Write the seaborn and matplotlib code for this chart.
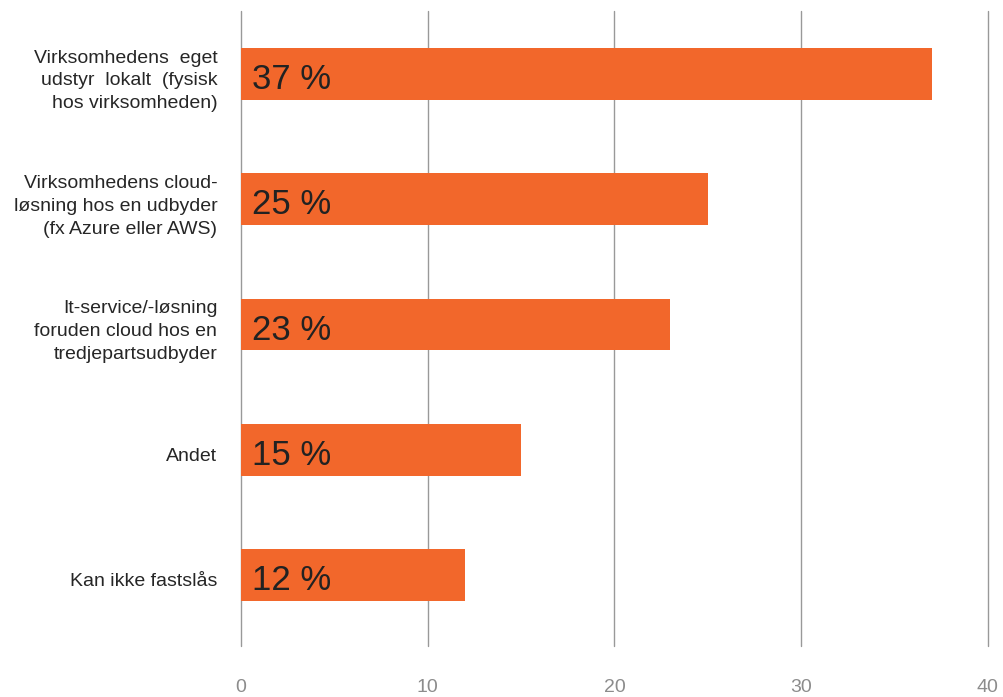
import matplotlib
matplotlib.use("Agg")
import matplotlib.pyplot as plt
import seaborn as sns
import pandas as pd

categories = [
    "Virksomhedens  eget\nudstyr  lokalt  (fysisk\nhos virksomheden)",
    "Virksomhedens cloud-\nløsning hos en udbyder\n(fx Azure eller AWS)",
    "It-service/-løsning\nforuden cloud hos en\ntredjepartsudbyder",
    "Andet",
    "Kan ikke fastslås",
]
values = [37, 25, 23, 15, 12]
bar_labels = ["37 %", "25 %", "23 %", "15 %", "12 %"]
xticks = [0, 10, 20, 30, 40]

sns.set_theme(style="white")
plt.rcParams["font.family"] = ["Liberation Sans", "DejaVu Sans"]

df = pd.DataFrame({"cat": categories, "val": values})

fig = plt.figure(figsize=(10.04, 6.97), dpi=100)
ax = fig.add_axes([0.240, 0.0732, 0.744, 0.9110])

sns.barplot(data=df, y="cat", x="val", orient="h", color="#F2672B",
            saturation=1, width=0.415, ax=ax, zorder=3)

for patch in ax.patches:
    patch.set_edgecolor("none")

ax.set_xlim(0, 40)
ax.set_ylim(4.567, -0.503)
ax.set_xticks(xticks)
ax.set_xticklabels([str(t) for t in xticks])
ax.grid(False)
for xv in xticks:
    ax.axvline(xv, color="#999999", linewidth=1.0, zorder=1, clip_on=False)
for s in ax.spines.values():
    s.set_visible(False)

ax.tick_params(axis="x", length=0, pad=24, labelsize=14, labelcolor="#8c8c8c")
ax.tick_params(axis="y", length=0, labelleft=False)

ax.set_xlabel("")
ax.set_ylabel("")

ytr = ax.get_yaxis_transform()
for i, c in enumerate(categories):
    ax.annotate(c, xy=(0, i), xycoords=ytr, xytext=(-17, -5),
                textcoords="offset points", ha="right", va="center",
                multialignment="right", linespacing=1.45, fontsize=14,
                color="#262626", annotation_clip=False)

for i, (v, t) in enumerate(zip(values, bar_labels)):
    ax.annotate(t, xy=(0, i), xytext=(8, -4), textcoords="offset points",
                ha="left", va="center", fontsize=25, color="#222222", zorder=5)

fig.savefig("out.png", dpi=100)
